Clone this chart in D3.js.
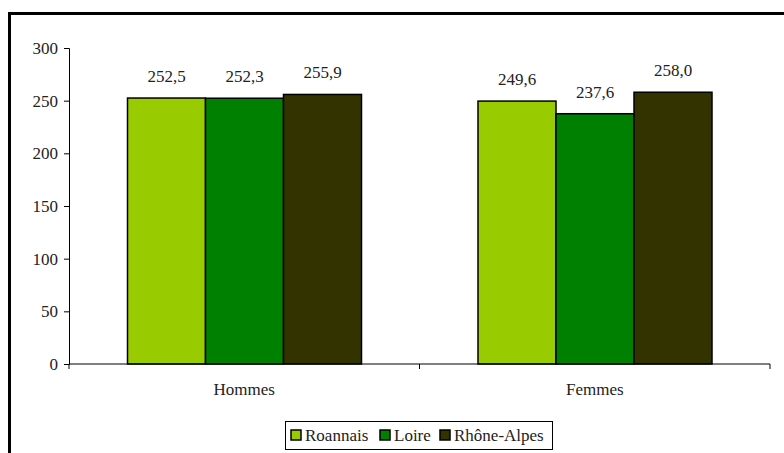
<!DOCTYPE html>
<html><head><meta charset="utf-8">
<script src="https://cdn.jsdelivr.net/npm/d3@7"></script>
<style>body{margin:0;background:#fff}svg{display:block}</style>
</head><body>
<svg id="c" width="784" height="453"></svg>
<script>
const categories = ["Hommes", "Femmes"];
const seriesNames = ["Roannais", "Loire", "Rhône-Alpes"];
const roannais = [252.5, 249.6];
const loire = [252.3, 237.6];
const rhoneAlpes = [255.9, 258.0];
const yTicks = [0, 50, 100, 150, 200, 250, 300];
const colors = ["#99cc00", "#008000", "#333300"];

const FONT = "'Liberation Serif', serif";
const seriesValues = [roannais, loire, rhoneAlpes];
const svg = d3.select("#c");
function txt(sel, size) { return sel.style("font-family", FONT).style("font-size", (size || 17) + "px").attr("fill", "#222"); }
// frame
svg.append("path").attr("d", "M9.5,460 V13.5 H800").attr("fill", "none").attr("stroke", "#000").attr("stroke-width", 3);

const x0 = d3.scaleBand().domain(categories).range([69, 770]).paddingInner(0).paddingOuter(0);
const x1 = d3.scaleBand().domain(seriesNames).range([58.5, 58.5 + 234]);
const y = d3.scaleLinear().domain([0, 300]).range([364, 48]);

// y axis
const ya = svg.append("g").attr("transform", "translate(69,0)")
  .call(d3.axisLeft(y).tickValues(yTicks).tickSize(5).tickPadding(6).tickFormat(d3.format("d")));
ya.attr("font-family", null).attr("font-size", null);
ya.select(".domain").attr("stroke", "#000");
txt(ya.selectAll("text"));

// bars
categories.forEach((c, ci) => {
  const g = svg.append("g").attr("transform", `translate(${x0(c)},0)`);
  seriesNames.forEach((s, si) => {
    const v = seriesValues[si][ci];
    g.append("rect").attr("x", x1(s)).attr("y", y(v)).attr("width", x1.bandwidth()).attr("height", y(0) - y(v))
      .attr("fill", colors[si]).attr("stroke", "#000").attr("stroke-width", 1.5);
    txt(g.append("text").attr("x", x1(s) + x1.bandwidth() / 2).attr("y", y(v) - 16).attr("text-anchor", "middle"))
      .text(d3.format(".1f")(v).replace(".", ","));
  });
});

// x axis
const xa = svg.append("g").attr("transform", "translate(0,364)");
xa.append("line").attr("x1", 69).attr("x2", 770).attr("stroke", "#000").attr("stroke-width", 1);
const bounds = [69, x0("Femmes"), 770];
bounds.forEach(b => xa.append("line").attr("x1", b).attr("x2", b).attr("y1", 0).attr("y2", 5).attr("stroke", "#000"));
categories.forEach(c => txt(xa.append("text").attr("x", x0(c) + x0.bandwidth() / 2).attr("y", 31).attr("text-anchor", "middle")).text(c));

// legend
const lg = svg.append("g");
lg.append("rect").attr("x", 285.5).attr("y", 421.5).attr("width", 267).attr("height", 28).attr("fill", "#fff").attr("stroke", "#000").attr("stroke-width", 1);
const lx = [291, 380, 440];
seriesNames.forEach((s, i) => {
  lg.append("rect").attr("x", lx[i]).attr("y", 430).attr("width", 10).attr("height", 10).attr("fill", colors[i]).attr("stroke", "#000").attr("stroke-width", 1.5);
  txt(lg.append("text").attr("x", lx[i] + 14).attr("y", 441)).text(s);
});
</script>
</body></html>
